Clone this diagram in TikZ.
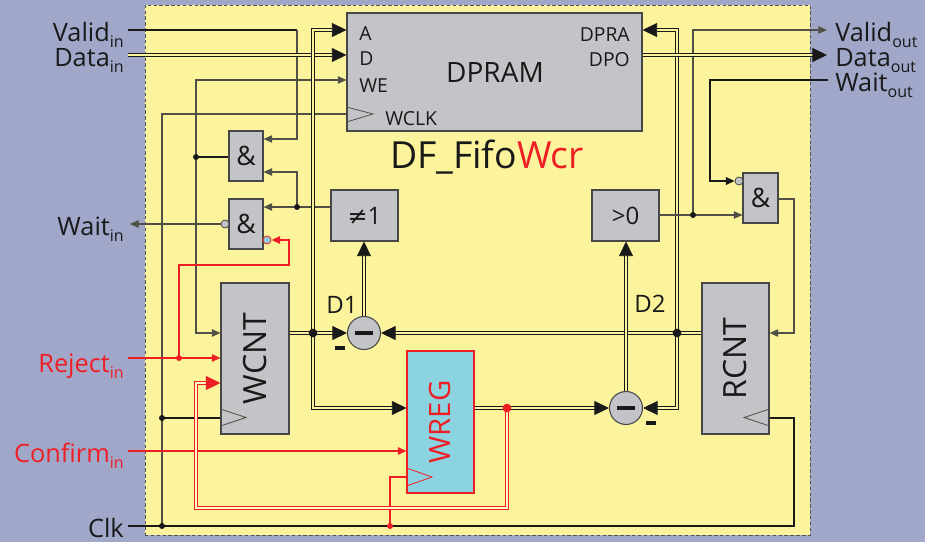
\documentclass[tikz,border=0pt]{standalone}
\usepackage{fontspec}
\setmainfont{Open Sans}
\newfontfamily\symfont{DejaVu Sans}
\usetikzlibrary{arrows.meta,fit}
\definecolor{bgblue}{RGB}{161,167,201}
\definecolor{panelyel}{RGB}{251,244,156}
\definecolor{boxgray}{RGB}{195,196,200}
\definecolor{wiregray}{RGB}{80,80,70}
\definecolor{ink}{RGB}{25,25,25}
\definecolor{sigred}{RGB}{237,30,36}
\definecolor{regcyan}{RGB}{140,211,226}
\definecolor{bubblue}{RGB}{140,205,225}
\newcommand\fs[1]{\fontsize{#1}{#1}\selectfont}
\newcommand\lowsub[1]{\raisebox{-4.5pt}{\fs{12}#1}}
\tikzset{
  blk/.style={inner sep=0pt, draw=ink!80, fill=boxgray, line width=0.8pt},
  wire/.style={draw=wiregray, line width=0.8pt},
  heavy/.style={draw=ink, line width=1.5pt},
  bus/.style={line width=0.7pt, draw=ink, double=panelyel, double distance=1.1pt},
  redwire/.style={draw=sigred, line width=1.1pt},
  redbus/.style={line width=0.85pt, draw=sigred, double=panelyel!60!white, double distance=1.1pt},
  sarr/.style={-{Triangle[length=6.5pt,width=5.6pt]}},
  barr/.style={-{Triangle[length=11pt,width=10.5pt]}},
  jdot/.style={circle, fill=ink, inner sep=0pt, minimum size=4.5pt},
  bigdot/.style={circle, fill=ink, inner sep=0pt, minimum size=6.5pt},
  bub/.style={circle, draw=ink!80, fill=boxgray, inner sep=0pt, minimum size=6pt, line width=0.6pt},
  port/.style={inner sep=0pt, font=\fs{19}, text=ink},
  inlbl/.style={inner sep=0pt, font=\fs{14.5}, text=ink},
  gatelbl/.style={inner sep=0pt, font=\fs{20}, text=ink},
  clk/.style={draw=wiregray, line width=0.6pt},
}
\begin{document}
\begin{tikzpicture}[x=0.75pt,y=-0.75pt]
\useasboundingbox (0,0) rectangle (925,542);
\fill[bgblue] (0,0) rectangle (925,542);
\node[inner sep=0pt, fit={(145,5)(810,535)}, fill=panelyel, draw=ink!75, line width=0.6pt, dash pattern=on 2.6pt off 1.8pt] (frame) {};

% blocks
\node[blk, fit={(347,13)(642,131)}] (dpram) {};
\node[blk, fit={(229,131)(263,181)}] (and1) {};
\node[blk, fit={(229,199)(263,249)}] (and2) {};
\node[blk, fit={(331,190)(398,241)}] (ne1) {};
\node[blk, fit={(592,190)(659,241)}] (gt0) {};
\node[blk, fit={(743,173)(778,223)}] (and3) {};
\node[blk, fit={(221,283)(289,434)}] (wcnt) {};
\node[blk, fit={(702,283)(769,434)}] (rcnt) {};
\node[blk, fit={(407,351)(474,493)}, fill=regcyan, draw=sigred] (wreg) {};
\node[blk, circle, minimum size=24.75pt] (d1) at (364,333) {};
\node[blk, circle, minimum size=24.75pt] (d2) at (626,408) {};
\node[bub] (bub1) at (225,224) {};
\node[bub, fill=bubblue, draw=sigred] (bub2) at (267,240) {};
\node[bub] (bub3) at (739,181) {};

% coordinates
\coordinate (vin) at (128,30);
\coordinate (din) at (128,55);
\coordinate (win) at (130,224);
\coordinate (rin) at (128,358);
\coordinate (cin) at (128,451);
\coordinate (kin) at (128,526);
\coordinate (vout) at (827,30);
\coordinate (dout) at (827,55);
\coordinate (wout) at (828,80);
\coordinate (vbend) at (297,30);
\coordinate (jwe) at (196,157);
\coordinate (jne) at (297,207);
\coordinate (jclk) at (162,418);
\coordinate (jck) at (162,526);
\coordinate (jrej) at (179,358);
\coordinate (jA) at (313,333);
\coordinate (jR) at (677,333);
\coordinate (jV) at (693,215);
\coordinate (jW) at (507,408);
\coordinate (jwc) at (390,526);

% wires
\draw[heavy] (vin) -- (vbend);
\draw[wire, sarr] (vbend) |- (and1.east |- 0,139);
\draw[bus, barr] (din) -- (dpram.west |- din);
\draw[heavy] (and1.west |- jwe) -- (jwe);
\draw[wire, sarr] (jwe) |- (dpram.west |- 0,80);
\draw[wire, sarr] (jwe) |- (wcnt.west |- 0,333);
\draw[wire] (jck) |- (dpram.west |- 0,114);
\draw[heavy] (jclk) -- (wcnt.west |- jclk);
\draw[heavy] (kin) -| (794,418) -- (rcnt.east |- 0,418);
\draw[wire, sarr] (ne1.west |- jne) -- (and2.east |- jne);
\draw[wire, sarr] (jne) |- (and1.east |- 0,172);
\draw[wire, sarr] (bub1.west) -- (win);
\draw[redwire, sarr] (rin) -- (wcnt.west |- rin);
\draw[redwire, sarr] (jrej) |- (289,265) |- (bub2.east);
\draw[redwire, sarr] (cin) -- (wreg.west |- cin);
\draw[redwire] (jwc) |- (wreg.west |- 0,477);
\draw[bus] (wcnt.east |- jA) -- (jA);
\draw[bus, barr] (jA) -- (d1.west);
\draw[bus, barr] (jA) |- (dpram.west |- 0,30);
\draw[bus, barr] (jA) |- (wreg.west |- jW);
\draw[bus, barr] (d1.north) -- (d1.north |- ne1.south);
\draw[bus, barr] (wreg.east |- jW) -- (d2.west);
\draw[redbus, barr] (jW) |- (196,508) |- (wcnt.west |- 0,383);
\draw[bus] (rcnt.west |- jR) -- (jR);
\draw[bus, barr] (jR) -- (d1.east);
\draw[bus, barr] (jR) |- (dpram.east |- 0,30);
\draw[bus, barr] (jR) |- (d2.east);
\draw[bus, barr] (d2.north) -- (d2.north |- gt0.south);
\draw[wire, sarr] (gt0.east |- jV) -- (and3.west |- jV);
\draw[wire, sarr] (jV) |- (vout);
\draw[bus, barr] (dpram.east |- dout) -- (dout);
\draw[heavy, sarr] (wout) -| (710,181) -- (bub3.west);
\draw[wire, sarr] (and3.east |- 0,199) -| (794,333) -- (rcnt.east |- 0,333);

% clock triangles
\draw[clk] (dpram.west |- 0,107) -- (373,114) -- (dpram.west |- 0,122);
\draw[clk] (wcnt.west |- 0,409) -- (246,417.5) -- (wcnt.west |- 0,426);
\draw[clk] (rcnt.east |- 0,409) -- (744,417.5) -- (rcnt.east |- 0,426);
\draw[clk, draw=sigred] (wreg.west |- 0,468) -- (432,477) -- (wreg.west |- 0,486);

% minus bars
\draw[ink, line width=2.5pt] ([xshift=-6.5pt]d1.center) -- ([xshift=6.5pt]d1.center);
\draw[ink, line width=2.5pt] ([xshift=-6.5pt]d2.center) -- ([xshift=6.5pt]d2.center);

% dots
\node[jdot] (dwe) at (jwe) {};
\node[jdot] (dne) at (jne) {};
\node[jdot] (dclk) at (jclk) {};
\node[jdot] (dck) at (jck) {};
\node[jdot] (dV) at (jV) {};
\node[bigdot] (dA) at (jA) {};
\node[bigdot] (dR) at (jR) {};
\node[jdot, fill=sigred] (drej) at (jrej) {};
\node[jdot, fill=sigred] (dwc) at (jwc) {};
\node[bigdot, fill=sigred] (dW) at (jW) {};

% labels
\node[port, anchor=base east] (lvin) at (124,42) {Valid\lowsub{in}};
\node[port, anchor=base east] (ldin) at (124,67) {Data\lowsub{in}};
\node[port, anchor=base east] (lwin) at (124,235) {Wait\lowsub{in}};
\node[port, anchor=base east, text=sigred] (lrin) at (124,372) {Reject\lowsub{in}};
\node[port, anchor=base east, text=sigred] (lcin) at (124,462) {Confirm\lowsub{in}};
\node[port, anchor=base east] (lkin) at (124,537) {Clk};
\node[port, anchor=base west] (lvout) at (835,42) {Valid\lowsub{out}};
\node[port, anchor=base west] (ldout) at (835,67) {Data\lowsub{out}};
\node[port, anchor=base west] (lwout) at (835,92) {Wait\lowsub{out}};

\node[inlbl, anchor=base west] (tA) at (359,41) {A};
\node[inlbl, anchor=base west] (tD) at (359,66) {D};
\node[inlbl, anchor=base west] (tWE) at (359,93) {WE};
\node[inlbl, anchor=base west] (tWCLK) at (385,126) {WCLK};
\node[inlbl, anchor=base east] (tDPRA) at (630,42) {DPRA};
\node[inlbl, anchor=base east] (tDPO) at (630,67) {DPO};
\node[inner sep=0pt, font=\fs{21}, text=ink, anchor=base] (tDPRAM) at (495,83) {DPRAM};
\node[inner sep=0pt, font=\fs{28}, text=ink, anchor=base] (title) at (487,168) {DF\_Fifo\textcolor{sigred}{Wcr}};

\node[gatelbl] (tand1) at (and1.center) {\&};
\node[gatelbl] (tand2) at (and2.center) {\&};
\node[gatelbl] (tand3) at (and3.center) {\&};
\node[gatelbl, font=\fs{18}] (tne1) at (ne1.center) {{\symfont ≠}1};
\node[gatelbl, font=\fs{18}] (tgt0) at (gt0.center) {>0};
\node[gatelbl, font=\fs{18}, anchor=base] (tD1) at (342,313) {D1};
\node[gatelbl, font=\fs{18}, anchor=base] (tD2) at (650,312) {D2};
\node[inner sep=0pt, text=ink] (m1) at (340,348) {\rule{7.5pt}{2.3pt}};
\node[inner sep=0pt, text=ink] (m2) at (651,423) {\rule{7.5pt}{2.3pt}};
\node[inner sep=0pt, font=\fs{24}, text=ink, rotate=90] (tWCNT) at (wcnt.center) {WCNT};
\node[inner sep=0pt, font=\fs{24}, text=ink, rotate=90] (tRCNT) at (rcnt.center) {RCNT};
\node[inner sep=0pt, font=\fs{22}, text=sigred, rotate=90] (tWREG) at (wreg.center) {WREG};
\end{tikzpicture}
\end{document}
